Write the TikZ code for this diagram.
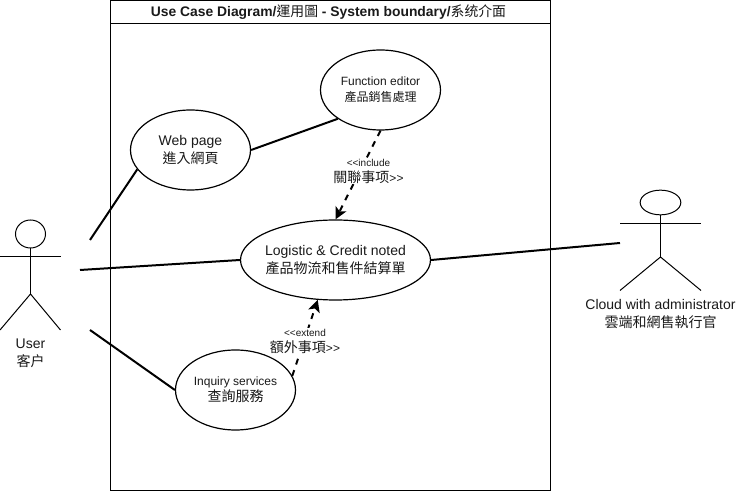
\documentclass[tikz,border=0pt]{standalone}
\usepackage{fontspec}
\usetikzlibrary{arrows.meta,shapes.geometric}
\setmainfont{Liberation Sans}
\newfontfamily\cjk{Noto Sans CJK TC}
\definecolor{txt}{HTML}{1A1A1A}
\tikzset{
  x=0.75pt,y=-0.75pt,
  usecase/.style={draw=black,line width=0.9pt,ellipse,fill=white,inner ysep=-6pt,inner xsep=-30pt,minimum width=#1,minimum height=60pt,align=center,text=txt},
  small case/.style={font=\fontsize{9}{12}\selectfont},
  large case/.style={font=\fontsize{10.5}{13}\selectfont},
  thin line/.style={draw=black,line width=0.75pt},
  assoc/.style={draw=black,line width=1.5pt},
  depend/.style={draw=black,line width=1.5pt,dash pattern=on 4.5pt off 4.5pt,-{Stealth[length=9pt,width=9pt,inset=2.2pt]}},
  lab/.style={inner sep=0pt,align=center,text=txt,font=\fontsize{10.5}{13.2}\selectfont},
  deplab/.style={fill=white,inner sep=0.5pt,align=center,text=txt,font=\fontsize{7.5}{10}\selectfont},
  actorhead/.style={draw=black,line width=0.75pt,ellipse,inner sep=0pt},
}
\begin{document}
\begin{tikzpicture}
\useasboundingbox (0,0) rectangle (736,491);
\fill[white] (0,0) rectangle (736,491);
% system boundary
\node[draw=black,line width=0.75pt,minimum width=330pt,minimum height=367.5pt,inner sep=0pt] (boundary) at (330.5,245.5) {};
\coordinate (tl) at (110.5,23.5);
\coordinate (tr) at (550.5,23.5);
\draw[thin line] (tl) -- (tr);
\node[inner sep=0pt,font=\fontsize{10.4}{12}\bfseries\selectfont,text=txt] (title) at (328.5,12.5) {Use Case Diagram/{\cjk\mdseries 運用圖} - System boundary/{\cjk\mdseries 系统介面}};
% use cases
\node[usecase=90pt,small case] (func) at (380.5,90) {Function editor\\{\cjk 產品銷售處理}};
\node[usecase=90pt,large case] (web) at (190.5,150) {Web page\\{\cjk 進入網頁}};
\node[usecase=142.5pt,large case] (logi) at (335.5,260) {Logistic \& Credit noted\\{\cjk 產品物流和售件結算單}};
\node[usecase=90pt,small case] (inq) at (235.5,390) {Inquiry services\\{\fontsize{10.5}{12}\selectfont\cjk 查詢服務}};
% User actor
\node[actorhead,minimum width=22.5pt,minimum height=21pt] (uhead) at (30.5,234) {};
\coordinate (uarmL) at (0,257);
\coordinate (uarmR) at (60.5,257);
\coordinate (uhip) at (30.5,294);
\coordinate (ufootL) at (0,330);
\coordinate (ufootR) at (60.5,330);
\draw[thin line] (uhead.south) -- (uhip);
\draw[thin line] (uarmL) -- (uarmR);
\draw[thin line] (ufootL) -- (uhip) -- (ufootR);
\node[lab] (ulab) at (30.5,353.5) {User\\{\cjk 客户}};
% Cloud actor
\node[actorhead,minimum width=30.5pt,minimum height=18.5pt] (chead) at (660.5,202.5) {};
\coordinate (carmL) at (620,223.5);
\coordinate (carmR) at (701,223.5);
\coordinate (chip) at (660.5,257);
\coordinate (cfootL) at (620,290.5);
\coordinate (cfootR) at (701,290.5);
\draw[thin line] (chead.south) -- (chip);
\draw[thin line] (carmL) -- (carmR);
\draw[thin line] (cfootL) -- (chip) -- (cfootR);
\node[lab] (clab) at (660.5,314) {Cloud with administrator\\{\cjk 雲端和網售執行官}};
% associations
\coordinate (ua) at (90,240);
\coordinate (ub) at (80,270);
\coordinate (uc) at (90,330);
\coordinate (ca) at (620,243);
\draw[assoc] (ua) -- (web.200);
\draw[assoc] (web.east) -- (func.214);
\draw[assoc] (ub) -- (logi.west);
\draw[assoc] (logi.east) -- (ca);
\draw[assoc] (uc) -- (inq.west);
% dependencies
\draw[depend] (func.south) -- (logi.north);
\draw[depend] (inq.14) -- (logi.246);
\node[deplab] (inc) at (368.5,171.5) {<\kern0pt<include\\[2pt]{\fontsize{10.5}{12}\selectfont\cjk 關聯事项}{\fontsize{9}{12}\selectfont >\kern0pt>}};
\node[deplab] (ext) at (305,341) {<\kern0pt<extend\\[2pt]{\fontsize{10.5}{12}\selectfont\cjk 額外事項}{\fontsize{9}{12}\selectfont >\kern0pt>}};
\end{tikzpicture}
\end{document}
